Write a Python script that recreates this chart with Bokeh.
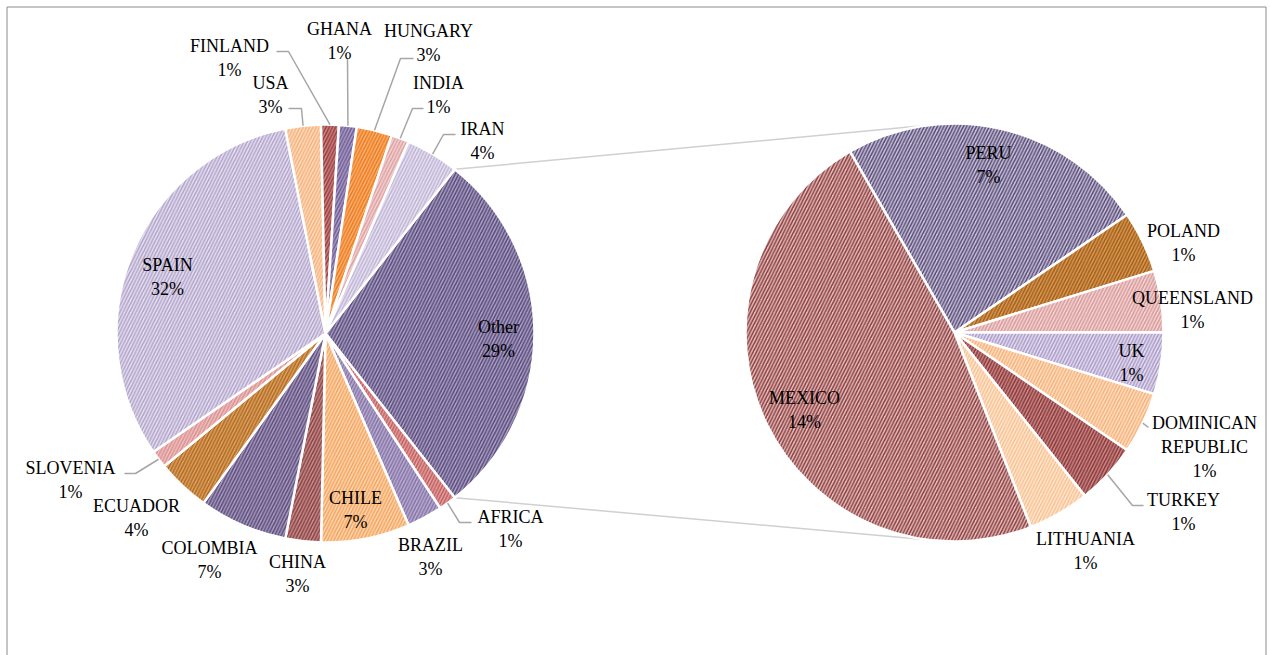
import math
from bokeh.plotting import figure
from bokeh.models import ColumnDataSource, Range1d
from bokeh.core.properties import value
from bokeh.embed import file_html
from bokeh.resources import INLINE

# ---------------- data ----------------
main_categories = ["AFRICA", "BRAZIL", "CHILE", "CHINA", "COLOMBIA", "ECUADOR", "SLOVENIA",
                   "SPAIN", "USA", "FINLAND", "GHANA", "HUNGARY", "INDIA", "IRAN"]
main_counts = [1, 2, 5, 2, 5, 3, 1, 23, 2, 1, 1, 2, 1, 3]

other_categories = ["PERU", "POLAND", "QUEENSLAND", "UK", "DOMINICAN\nREPUBLIC",
                    "TURKEY", "LITHUANIA", "MEXICO"]
other_counts = [5, 1, 1, 1, 1, 1, 1, 10]

# ---------------- styles ----------------
main_fill = ["#E3A3A3", "#BBAED0", "#FCD6B4", "#C49090", "#A99CBF", "#DDA365", "#EFC1C1",
             "#E6E0EF", "#FCDDC2", "#CA8686", "#AC9DC6", "#F8B275", "#F3D3D3", "#E9E3F1"]
main_hatch = ["#C25C5C", "#8272A6", "#F4A45C", "#8C3E3E", "#5A4B7A", "#B0691F", "#DA9090",
              "#B0A2CA", "#F6B078", "#9A3A3A", "#6C5C92", "#EE7A1A", "#DDA0A0", "#BEB2D4"]
other_fill_main = "#ADA2C4"
other_hatch_main = "#56497A"

sub_fill = ["#CBC3DB", "#DA9B55", "#F3D6D6", "#E6E0EF", "#FDE1C6", "#C78C8C", "#FEE8D3", "#E0C0C0"]
sub_hatch = ["#564A74", "#A05C18", "#D89898", "#A898C8", "#F6B078", "#8C3434", "#F8C090", "#8E3A3A"]

FONT = "Liberation Serif"
W, H = 1270, 655
R = 209
C1 = (325, 333)            # screen centres
C2 = (954, 332)
SUB_START_DEG = 120.0
HATCH_SCALE, HATCH_WEIGHT = 6.5, 1.5

# label block centres: offsets (px right, px down) from pie centre
main_label_off = {
    "AFRICA": (185, 195), "BRAZIL": (105, 223), "CHILE": (30, 176), "CHINA": (-28, 240),
    "COLOMBIA": (-116, 226), "ECUADOR": (-189, 184), "SLOVENIA": (-255, 146),
    "SPAIN": (-158, -57), "USA": (-55, -239), "FINLAND": (-96, -276), "GHANA": (14, -293),
    "HUNGARY": (103, -291), "INDIA": (113, -239), "IRAN": (157, -193), "Other": (173, 5),
}
sub_label_off = {
    "PERU": (34, -168), "POLAND": (229, -90), "QUEENSLAND": (238, -23), "UK": (177, 30),
    "DOMINICAN\nREPUBLIC": (250, 114), "TURKEY": (229, 179), "LITHUANIA": (131, 218),
    "MEXICO": (-150, 77),
}
# leader lines: knee and end offsets from pie centre
main_leaders = {
    "FINLAND": ((-37, -282), (-49, -282)), "GHANA": ((22, -275), (22, -275)),
    "HUNGARY": ((75, -275), (88, -275)), "INDIA": ((87, -225), (98, -225)),
    "IRAN": ((118, -199), (130, -199)), "USA": ((-24, -225), (-37, -225)),
    "AFRICA": ((134, 189), (146, 189)), "SLOVENIA": ((-190, 140), (-201, 140)),
}
sub_leaders = {
    "TURKEY": ((178, 173), (189, 173)), "DOMINICAN\nREPUBLIC": ((194, 95), (194, 95)),
}


def to_data(sx, sy):
    return sx, H - sy


p = figure(width=W, height=H, output_backend="svg", toolbar_location=None,
           x_axis_type=None, y_axis_type=None, min_border=0,
           x_range=Range1d(0, W), y_range=Range1d(0, H))
p.grid.visible = False
p.outline_line_color = None
p.background_fill_color = "white"
p.border_fill_color = "white"

# frame (top, left, right)
p.line([6.5, 6.5, W - 4.5, W - 4.5], [0, H - 6.5, H - 6.5, 0], line_color="#8C8C8C", line_width=1)

total = sum(main_counts) + sum(other_counts)
other_count = sum(other_counts)

cx1, cy1 = to_data(*C1)
cx2, cy2 = to_data(*C2)

# ---- main pie: "Other" centred at 3 o'clock, rest clockwise ----
half = math.pi * other_count / total
cats = ["Other"] + main_categories
counts = [other_count] + main_counts
fills = [other_fill_main] + main_fill
hatches = [other_hatch_main] + main_hatch
starts, ends, mids = [], [], []
a = half
for c in counts:
    sweep = 2 * math.pi * c / total
    starts.append(a - sweep)
    ends.append(a)
    mids.append(a - sweep / 2)
    a -= sweep

# connector lines
ox_top = cx1 + R * math.cos(half)
oy_top = cy1 + R * math.sin(half)
ox_bot = cx1 + R * math.cos(-half)
oy_bot = cy1 + R * math.sin(-half)
p.segment(x0=[ox_top, ox_bot], y0=[oy_top, oy_bot], x1=[cx2 - 8, cx2 - 8], y1=[cy2 + R, cy2 - R],
          line_color="#D0D0D0", line_width=1.5)

src1 = ColumnDataSource(dict(start=starts, end=ends, fill=fills, hatch=hatches))
p.wedge(x=cx1, y=cy1, radius=R, start_angle="start", end_angle="end", source=src1,
        fill_color="fill", hatch_color="hatch", hatch_pattern="/", hatch_scale=HATCH_SCALE,
        hatch_weight=HATCH_WEIGHT, line_color="white", line_width=2.5)

# ---- sub pie ----
sub_total = sum(other_counts)
s_starts, s_ends, s_mids = [], [], []
a = math.radians(SUB_START_DEG)
for c in other_counts:
    sweep = 2 * math.pi * c / sub_total
    s_starts.append(a - sweep)
    s_ends.append(a)
    s_mids.append(a - sweep / 2)
    a -= sweep
src2 = ColumnDataSource(dict(start=s_starts, end=s_ends, fill=sub_fill, hatch=sub_hatch))
p.wedge(x=cx2, y=cy2, radius=R, start_angle="start", end_angle="end", source=src2,
        fill_color="fill", hatch_color="hatch", hatch_pattern="/", hatch_scale=HATCH_SCALE,
        hatch_weight=HATCH_WEIGHT, line_color="white", line_width=2.5)

# ---- leaders ----
lx, ly = [], []
for cat, mid in zip(cats, mids):
    if cat in main_leaders:
        (kdx, kdy), (edx, edy) = main_leaders[cat]
        lx.append([cx1 + R * math.cos(mid), cx1 + kdx, cx1 + edx])
        ly.append([cy1 + R * math.sin(mid), cy1 - kdy, cy1 - edy])
for cat, mid in zip(other_categories, s_mids):
    if cat in sub_leaders:
        (kdx, kdy), (edx, edy) = sub_leaders[cat]
        lx.append([cx2 + R * math.cos(mid), cx2 + kdx, cx2 + edx])
        ly.append([cy2 + R * math.sin(mid), cy2 - kdy, cy2 - edy])
p.multi_line(xs=lx, ys=ly, line_color="#A6A6A6", line_width=1.5)

# ---- labels ----
tx, ty, tt = [], [], []
for cat, c in zip(cats, counts):
    dx, dy = main_label_off[cat]
    tx.append(cx1 + dx)
    ty.append(cy1 - dy)
    tt.append(f"{cat}\n{round(100 * c / total)}%")
for cat, c in zip(other_categories, other_counts):
    dx, dy = sub_label_off[cat]
    tx.append(cx2 + dx)
    ty.append(cy2 - dy)
    tt.append(f"{cat}\n{round(100 * c / total)}%")
p.text(x=tx, y=ty, text=tt, text_font=value(FONT), text_font_size="18px",
       text_align="center", text_baseline="middle", text_line_height=1.2, text_color="#000000")

open("out.html", "w").write(file_html(p, INLINE))
